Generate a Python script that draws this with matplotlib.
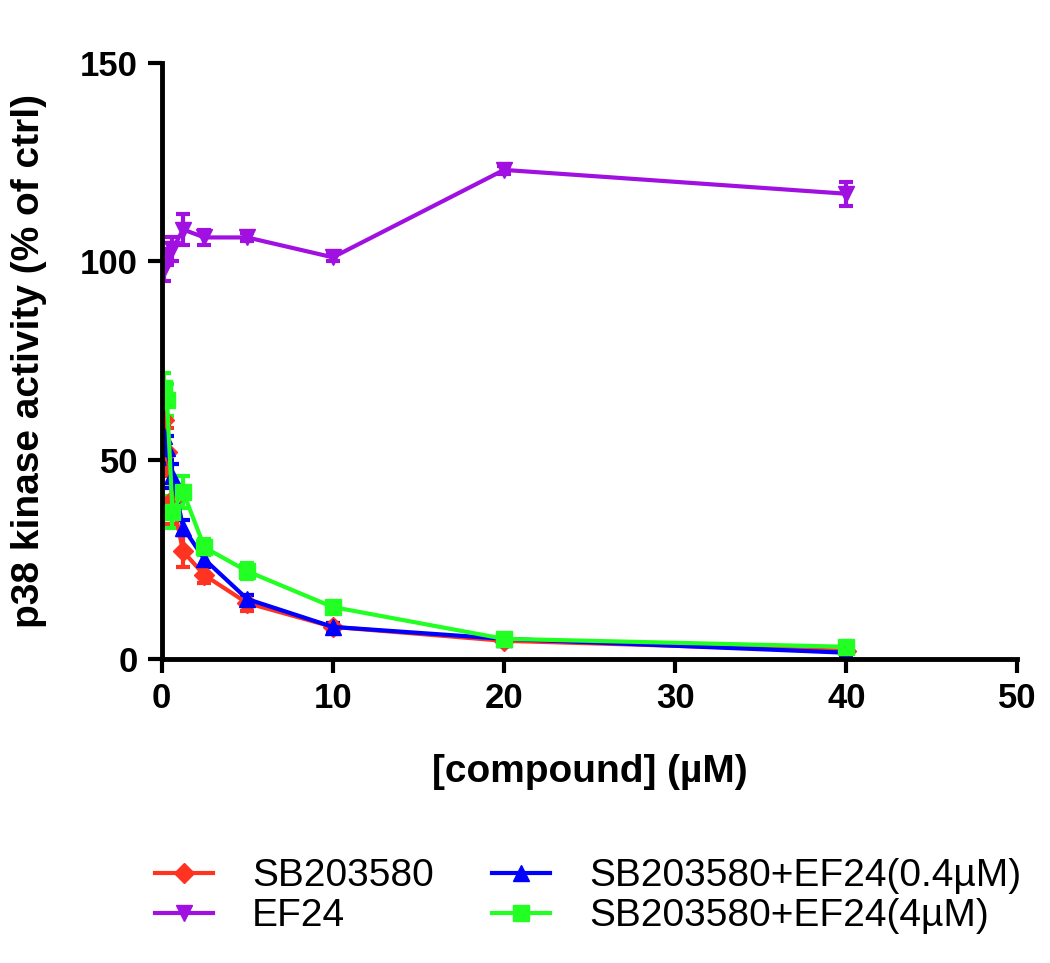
import matplotlib
matplotlib.use("Agg")
import matplotlib.pyplot as plt

plt.rcParams['font.family'] = ['Liberation Sans', 'DejaVu Sans']

# concentrations (uM)
conc = [0.16, 0.31, 0.63, 1.25, 2.5, 5, 10, 20, 40]

sb = [60, 52, 40, 27, 21, 14, 8, 4.5, 2]
sb_err = [5, 6, 6, 4, 2, 2, 1, 1, 0.5]

ef24 = [98, 101, 103, 108, 106, 106, 101, 123, 117]
ef24_err = [3, 2, 3, 4, 2, 1, 1, 1, 3]

sb_ef04 = [56, 53, 46, 33, 25, 15, 8, 5, 1.5]
sb_ef04_err = [3, 3, 3, 2, 2, 1, 1, 1, 0.5]

sb_ef4 = [68, 65, 37, 42, 28, 22, 13, 5, 3]
sb_ef4_err = [4, 4, 4, 4, 2, 2, 1, 1, 1]

labels = ['SB203580', 'EF24', 'SB203580+EF24(0.4\u00b5M)', 'SB203580+EF24(4\u00b5M)']

fig = plt.figure(figsize=(10.5, 9.63), dpi=100)
ax = fig.add_axes([0.154, 0.316, 0.815, 0.619])

series = [
    (sb, sb_err, '#ff3322', 'D', 10, labels[0]),
    (ef24, ef24_err, '#a010e0', 'v', 12, labels[1]),
    (sb_ef04, sb_ef04_err, '#0000ff', '^', 12, labels[2]),
    (sb_ef4, sb_ef4_err, '#22ff22', 's', 11, labels[3]),
]

handles = []
for y, e, c, m, ms, lab in series:
    h = ax.errorbar(conc, y, yerr=e, color=c, marker=m, markersize=ms,
                    linewidth=3, elinewidth=3, capsize=5, capthick=3, label=lab)
    handles.append(h)

ax.set_xlim(0, 50)
ax.set_ylim(0, 150)
ax.set_xticks([0, 10, 20, 30, 40, 50])
ax.set_yticks([0, 50, 100, 150])

for s in ['top', 'right']:
    ax.spines[s].set_visible(False)
for s in ['left', 'bottom']:
    ax.spines[s].set_linewidth(3.5)
ax.tick_params(width=3, length=10, labelsize=25, direction='out', pad=7)
for t in ax.get_xticklabels() + ax.get_yticklabels():
    t.set_fontweight('bold')

ax.set_xlabel('[compound] (\u00b5M)', fontsize=28, fontweight='bold', labelpad=28)
ax.set_ylabel('p38 kinase activity (% of ctrl)', fontsize=28, fontweight='bold', labelpad=24)

# legend below the plot, two columns
leg_handles = [h[0] for h in handles]
fig.legend(leg_handles, labels, ncol=2, loc='upper left',
           bbox_to_anchor=(0.114, 0.145), frameon=False,
           fontsize=28, handlelength=1.5, handletextpad=1.0,
           columnspacing=1.5, labelspacing=0.1)

fig.savefig('out.png', dpi=100)
